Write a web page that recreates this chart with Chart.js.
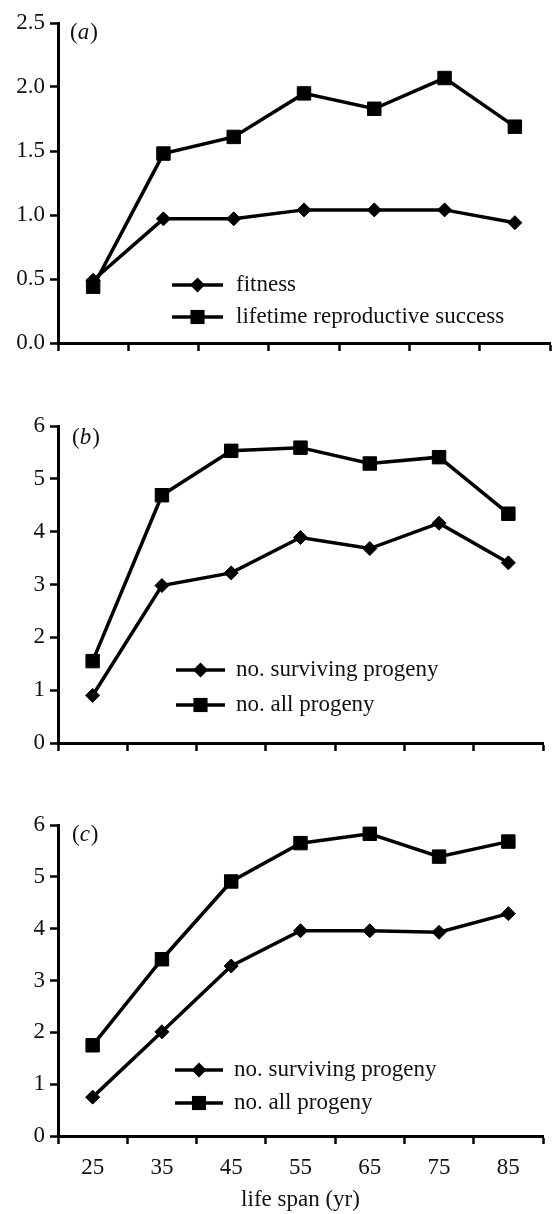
<!DOCTYPE html>
<html>
<head>
<meta charset="utf-8">
<script src="https://cdn.jsdelivr.net/npm/chart.js@4.4.1/dist/chart.umd.min.js"></script>
<style>
  html, body { margin: 0; padding: 0; background: #fff; }
  #wrap { position: relative; width: 554px; height: 1214px; }
  canvas { position: absolute; left: 0; }
</style>
</head>
<body>
<div id="wrap">
  <canvas id="chartA" width="554" height="373" style="top:0"></canvas>
  <canvas id="chartB" width="554" height="373" style="top:400px"></canvas>
  <canvas id="chartC" width="554" height="414" style="top:800px"></canvas>
</div>
<script>
const lifeSpans = ["25", "35", "45", "55", "65", "75", "85"];

// (a)
const fitness = [0.49, 0.97, 0.97, 1.04, 1.04, 1.04, 0.94];
const lifetimeRS = [0.44, 1.48, 1.61, 1.95, 1.83, 2.07, 1.69];
// (b)
const survivingB = [0.90, 2.98, 3.22, 3.89, 3.68, 4.16, 3.41];
const allProgenyB = [1.55, 4.69, 5.53, 5.59, 5.29, 5.41, 4.34];
// (c)
const survivingC = [0.75, 2.01, 3.28, 3.96, 3.96, 3.93, 4.29];
const allProgenyC = [1.75, 3.41, 4.91, 5.65, 5.83, 5.39, 5.68];

const yTicksA = [0, 0.5, 1.0, 1.5, 2.0, 2.5];
const yTicksBC = [0, 1, 2, 3, 4, 5, 6];

const FONT = "'Liberation Serif', 'DejaVu Serif', serif";
const TXT = "#111";
const FS = 23;

function marker(ctx, style, x, y, r) {
  ctx.beginPath();
  if (style === "rect") {
    const s = r * Math.SQRT1_2;
    ctx.rect(x - s, y - s, 2 * s, 2 * s);
  } else {
    ctx.moveTo(x - r, y);
    ctx.lineTo(x, y - r);
    ctx.lineTo(x + r, y);
    ctx.lineTo(x, y + r);
    ctx.closePath();
  }
  ctx.fillStyle = "#000";
  ctx.fill();
}

// legend drawn inside the plot, like the original figure
const insideLegend = {
  id: "insideLegend",
  afterDraw(chart, args, opts) {
    const ctx = chart.ctx;
    ctx.save();
    chart.data.datasets.forEach((ds, i) => {
      const y = opts.rows[i];
      ctx.strokeStyle = "#000";
      ctx.lineWidth = 3.5;
      ctx.beginPath();
      ctx.moveTo(opts.x1, y);
      ctx.lineTo(opts.x2, y);
      ctx.stroke();
      marker(ctx, ds.pointStyle, (opts.x1 + opts.x2) / 2, y, ds.pointRadius + 0.5);
      ctx.fillStyle = TXT;
      ctx.font = FS + "px " + FONT;
      ctx.textBaseline = "middle";
      ctx.fillText(ds.label, opts.textX, y);
    });
    ctx.restore();
  }
};

// "(a)" style panel tag with italic letter
const panelTag = {
  id: "panelTag",
  afterDraw(chart, args, opts) {
    const ctx = chart.ctx;
    ctx.save();
    ctx.fillStyle = TXT;
    ctx.textBaseline = "middle";
    let x = opts.x;
    ctx.font = FS + "px " + FONT;
    ctx.fillText("(", x, opts.y);
    x += ctx.measureText("(").width;
    ctx.font = "italic " + FS + "px " + FONT;
    ctx.fillText(opts.letter, x, opts.y);
    x += ctx.measureText(opts.letter).width + 1;
    ctx.font = FS + "px " + FONT;
    ctx.fillText(")", x, opts.y);
    ctx.restore();
  }
};

function makeChart(id, cfg) {
  const datasets = [
    {
      label: cfg.labels[0], data: cfg.diamond,
      pointStyle: "rectRot", pointRadius: 7, pointHoverRadius: 7
    },
    {
      label: cfg.labels[1], data: cfg.square,
      pointStyle: "rect", pointRadius: 9.5, pointHoverRadius: 9.5
    }
  ].map(d => Object.assign(d, {
    borderColor: "#000", backgroundColor: "#000",
    pointBackgroundColor: "#000", pointBorderColor: "#000",
    pointBorderWidth: 1, borderWidth: 3.5, tension: 0, fill: false
  }));

  return new Chart(document.getElementById(id), {
    type: "line",
    data: { labels: lifeSpans, datasets },
    plugins: [insideLegend, panelTag],
    options: {
      responsive: false,
      animation: false,
      layout: {
        autoPadding: false,
        padding: { top: cfg.padTop, right: cfg.padRight, left: 0, bottom: 0 }
      },
      plugins: {
        legend: { display: false },
        tooltip: { enabled: false },
        insideLegend: cfg.legend,
        panelTag: cfg.tag
      },
      scales: {
        x: {
          type: "category",
          offset: true,
          grid: { offset: true, drawOnChartArea: false, tickLength: 8, tickWidth: 2.5, color: "#000" },
          border: { color: "#000", width: 3 },
          ticks: {
            display: cfg.showX, autoSkip: false, maxRotation: 0,
            color: TXT, font: { family: FONT, size: FS }, padding: 10
          },
          title: {
            display: cfg.showX, text: "life span (yr)",
            color: TXT, font: { family: FONT, size: FS }, padding: { top: 0, bottom: 0 }
          },
          afterFit: s => { s.height = cfg.xHeight; }
        },
        y: {
          min: cfg.yTicks[0],
          max: cfg.yTicks[cfg.yTicks.length - 1],
          afterBuildTicks: s => { s.ticks = cfg.yTicks.map(v => ({ value: v })); },
          grid: { drawOnChartArea: false, tickLength: 8, tickWidth: 2.5, color: "#000" },
          border: { color: "#000", width: 3 },
          ticks: {
            color: TXT, font: { family: FONT, size: FS }, padding: 5,
            callback: v => cfg.decimals ? Number(v).toFixed(1) : String(v)
          },
          afterFit: s => { s.width = 58; }
        }
      }
    }
  });
}

makeChart("chartA", {
  labels: ["fitness", "lifetime reproductive success"],
  diamond: fitness, square: lifetimeRS,
  yTicks: yTicksA, decimals: true,
  padTop: 23, padRight: 4, xHeight: 30, showX: false,
  legend: { x1: 172, x2: 223, textX: 236, rows: [285, 317] },
  tag: { letter: "a", x: 70, y: 33 }
});

makeChart("chartB", {
  labels: ["no. surviving progeny", "no. all progeny"],
  diamond: survivingB, square: allProgenyB,
  yTicks: yTicksBC, decimals: false,
  padTop: 26, padRight: 11, xHeight: 30, showX: false,
  legend: { x1: 176, x2: 225, textX: 236, rows: [270, 305] },
  tag: { letter: "b", x: 72, y: 38 }
});

makeChart("chartC", {
  labels: ["no. surviving progeny", "no. all progeny"],
  diamond: survivingC, square: allProgenyC,
  yTicks: yTicksBC, decimals: false,
  padTop: 25, padRight: 11, xHeight: 78, showX: true,
  legend: { x1: 175, x2: 223, textX: 234, rows: [270, 303] },
  tag: { letter: "c", x: 72, y: 35 }
});
</script>
</body>
</html>
